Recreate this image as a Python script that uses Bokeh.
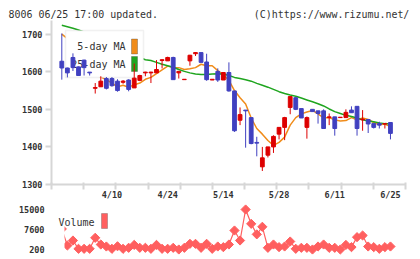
import numpy as np
from bokeh.plotting import figure
from bokeh.layouts import column
from bokeh.models import Range1d, FixedTicker, Label, BoxAnnotation, ColumnDataSource
from bokeh.embed import file_html
from bokeh.resources import INLINE

# ---------------- data ----------------
tick_idx = [9, 19, 29, 39, 49, 59]
tick_lbl = ["4/10", "4/24", "5/14", "5/28", "6/11", "6/25"]
price_ticks = [1300, 1400, 1500, 1600, 1700]
vol_ticks = [200, 7600, 15000]

opens = [1628, 1610, 1638, 1613, 1631, 1599, 1556, 1560, 1582, 1582,
         1575, 1572, 1578, 1557, 1577, 1597, 1597, 1597, 1630, 1629,
         1638, 1597, 1579, 1629, 1648, 1651, 1626, 1578, 1601, 1578,
         1598, 1549, 1471, 1498, 1478, 1412, 1347, 1378, 1400, 1434,
         1452, 1505, 1531, 1502, 1452, 1500, 1496, 1496, 1478, 1480,
         1478, 1478, 1498, 1508, 1472, 1473, 1462, 1462, 1461, 1465]
highs = [1702, 1611, 1649, 1614, 1632, 1599, 1570, 1588, 1586, 1586,
         1580, 1578, 1580, 1622, 1592, 1600, 1600, 1631, 1633, 1640,
         1640, 1601, 1580, 1645, 1652, 1651, 1648, 1580, 1609, 1598,
         1625, 1549, 1505, 1498, 1478, 1427, 1400, 1400, 1431, 1452,
         1480, 1534, 1533, 1502, 1481, 1500, 1496, 1500, 1489, 1480,
         1479, 1500, 1508, 1508, 1498, 1473, 1462, 1467, 1462, 1465]
lows = [1579, 1585, 1602, 1590, 1590, 1590, 1542, 1560, 1553, 1560,
        1547, 1568, 1548, 1557, 1575, 1588, 1570, 1597, 1609, 1629,
        1579, 1582, 1579, 1616, 1642, 1625, 1576, 1578, 1573, 1578,
        1547, 1440, 1458, 1398, 1407, 1375, 1336, 1372, 1384, 1420,
        1418, 1487, 1498, 1477, 1422, 1494, 1462, 1449, 1458, 1430,
        1478, 1478, 1491, 1430, 1443, 1437, 1449, 1449, 1449, 1420]
closes = [1610, 1597, 1611, 1590, 1611, 1597, 1558, 1575, 1556, 1563,
          1550, 1575, 1553, 1583, 1590, 1599, 1599, 1606, 1632, 1638,
          1579, 1601, 1580, 1644, 1651, 1625, 1579, 1580, 1578, 1598,
          1549, 1443, 1486, 1496, 1409, 1410, 1371, 1400, 1428, 1452,
          1478, 1534, 1500, 1477, 1478, 1494, 1489, 1449, 1480, 1449,
          1479, 1492, 1491, 1449, 1474, 1461, 1452, 1458, 1462, 1436]
ma5 = [1700, 1688, 1660, 1630, 1604, 1601, 1593, 1586, 1579, 1570,
       1560, 1564, 1559, 1565, 1570, 1580, 1585, 1595, 1605, 1615,
       1611, 1611, 1606, 1608, 1611, 1620, 1616, 1616, 1603, 1592,
       1577, 1550, 1531, 1514, 1477, 1449, 1434, 1417, 1404, 1412,
       1426, 1458, 1478, 1488, 1493, 1497, 1488, 1477, 1478, 1472,
       1469, 1470, 1478, 1472, 1477, 1473, 1465, 1459, 1461, 1454]
ma25 = [1724, 1720, 1716, 1711, 1706, 1700, 1694, 1688, 1681, 1674,
        1667, 1660, 1652, 1645, 1638, 1632, 1630, 1625, 1620, 1616,
        1612, 1606, 1601, 1597, 1594, 1593, 1593, 1594, 1595, 1594,
        1590, 1585, 1582, 1579, 1575, 1569, 1564, 1559, 1553, 1547,
        1542, 1538, 1535, 1530, 1525, 1520, 1515, 1509, 1501, 1494,
        1489, 1484, 1481, 1477, 1472, 1469, 1467, 1464, 1462, 1461]
volume = [7800, 1680, 3530, 460, 460, 460, 4530, 2050, 1310, 460,
          1400, 460, 830, 1900, 830, 830, 460, 1900, 460, 460,
          830, 200, 830, 2300, 2300, 830, 2300, 460, 1310, 1070,
          2050, 7230, 3530, 15000, 9700, 5800, 8600, 830, 2050, 1070,
          1310, 3160, 460, 830, 830, 200, 1310, 2050, 830, 830,
          200, 1900, 1070, 4770, 5390, 1310, 1070, 460, 1070, 1310]

title_left = "8006 06/25 17:00 updated."
title_right = "(C)https://www.rizumu.net/"

# ---------------- style ----------------
FONT = "DejaVu Sans Mono"
UP, DOWN = "#dd0000", "#4040c0"
ORANGE, GREEN = "#f08c1a", "#1fa51f"
VOLC = "#ff5f5f"
AXC = "#d6d6d6"
TXT = "#333333"

W, H_MAIN, H_VOL = 420, 203, 56
L, R, T, B = 51, 15, 20, 19
x0, x1 = -1.85, 61.7

idx = np.arange(len(opens))
o = np.array(opens, float)
c = np.array(closes, float)
src = ColumnDataSource(dict(
    x=idx, h=highs, l=lows,
    top=np.maximum(o, c), bottom=np.minimum(o, c),
    color=[UP if cc >= oo else DOWN for oo, cc in zip(o, c)],
))

p = figure(width=W, height=H_MAIN, x_range=Range1d(x0, x1),
           y_range=Range1d(1300, 1736.4), output_backend="svg",
           toolbar_location=None, min_border_left=L, min_border_right=R,
           min_border_top=T, min_border_bottom=B)
p.outline_line_color = None
p.grid.visible = False

# header: both texts in one monospace line (non-breaking spaces keep the gap)
p.title.text = title_left + "\u00a0" * 16 + title_right
p.title.text_font = FONT
p.title.text_font_size = "9.95px"
p.title.text_font_style = "normal"
p.title.text_color = TXT
p.title.align = "left"
p.title.offset = 8 - L
p.title.standoff = 2

p.line(idx, ma5, color=ORANGE, line_width=1.5, level="image")
p.line(idx, ma25, color=GREEN, line_width=1.5, level="image")
p.segment(x0="x", y0="l", x1="x", y1="h", color="color", line_width=1,
          source=src, level="guide")
p.vbar(x="x", width=0.68, top="top", bottom="bottom", fill_color="color",
       line_color="color", line_width=1, source=src, level="guide")

xa = p.xaxis[0]
xa.ticker = FixedTicker(ticks=tick_idx,
                        minor_ticks=list(np.linspace(x0 + 0.01, x1 - 0.01, 12)))
xa.major_label_overrides = {i: s for i, s in zip(tick_idx, tick_lbl)}
xa.axis_line_color = AXC
xa.axis_line_width = 2
xa.major_tick_in = 0
xa.major_tick_out = 0
xa.minor_tick_in = 2
xa.minor_tick_out = 5
xa.minor_tick_line_color = AXC
xa.minor_tick_line_width = 2
xa.major_label_standoff = 0
xa.major_label_text_font = FONT
xa.major_label_text_font_size = "8.5px"
xa.major_label_text_font_style = "bold"
xa.major_label_text_color = TXT

ya = p.yaxis[0]
ya.ticker = FixedTicker(ticks=price_ticks)
ya.axis_line_color = AXC
ya.axis_line_width = 2
ya.major_tick_in = 0
ya.major_tick_out = 6
ya.major_tick_line_color = AXC
ya.major_tick_line_width = 2
ya.minor_tick_in = 0
ya.minor_tick_out = 0
ya.major_label_standoff = 3
ya.major_label_text_font = FONT
ya.major_label_text_font_size = "8.5px"
ya.major_label_text_font_style = "bold"
ya.major_label_text_color = TXT

# legend box (white, hides the MA lines, candles drawn above)
fh = H_MAIN - T - B
def sy(y_px):  # page pixel row -> screen units from frame bottom
    return fh + T - y_px
p.add_layout(BoxAnnotation(left=65 - L, right=143 - L, bottom=sy(77), top=sy(30),
                           left_units="screen", right_units="screen",
                           top_units="screen", bottom_units="screen",
                           fill_color="white", fill_alpha=1,
                           line_color="#cfcfcf", line_width=1.5, level="underlay"))
for lab, col, yc in [("5-day MA", ORANGE, 46), ("25-day MA", GREEN, 63.5)]:
    p.add_layout(Label(x=125 - L, y=sy(yc), x_units="screen", y_units="screen",
                       text=lab, text_font=FONT, text_font_size="10px",
                       text_color=TXT, text_align="right", text_baseline="middle",
                       level="glyph"))
    p.add_layout(BoxAnnotation(left=131 - L, right=137 - L, bottom=sy(yc + 7.5),
                               top=sy(yc - 7.5),
                               left_units="screen", right_units="screen",
                               top_units="screen", bottom_units="screen",
                               fill_color=col, fill_alpha=1, line_color="#333333",
                               line_width=1, level="glyph"))

# ---------------- volume panel ----------------
VL = 64   # where the volume trace becomes visible
p2 = figure(width=W, height=H_VOL, x_range=Range1d(x0, x1),
            y_range=Range1d(-3500, 17220), output_backend="svg",
            toolbar_location=None, x_axis_location=None,
            min_border_left=L, min_border_right=R,
            min_border_top=0, min_border_bottom=0)
p2.outline_line_color = None
p2.grid.visible = False
p2.line(idx, volume, color=VOLC, line_width=1.2, level="underlay")
p2.scatter(idx, volume, marker="square", angle=0.785, size=6.5, color=VOLC,
           level="underlay")
# the trace starts at the panel's inner edge in the reference
p2.add_layout(BoxAnnotation(left=0, right=VL - L, bottom=-5, top=H_VOL + 5,
                            left_units="screen", right_units="screen",
                            top_units="screen", bottom_units="screen",
                            fill_color="white", fill_alpha=1, line_color=None,
                            level="glyph"))
va = p2.yaxis[0]
va.ticker = FixedTicker(ticks=vol_ticks)
va.axis_line_color = None
va.major_tick_in = 0
va.major_tick_out = 0
va.minor_tick_in = 0
va.minor_tick_out = 0
va.major_label_standoff = 7
va.major_label_text_font = FONT
va.major_label_text_font_size = "8.5px"
va.major_label_text_font_style = "bold"
va.major_label_text_color = TXT

p2.add_layout(Label(x=58 - L, y=H_VOL - 19, x_units="screen", y_units="screen",
                    text="Volume", text_font=FONT, text_font_size="10px",
                    text_color=TXT, text_baseline="middle"))
p2.add_layout(BoxAnnotation(left=101 - L, right=107 - L, bottom=H_VOL - 25,
                            top=H_VOL - 10, left_units="screen", right_units="screen",
                            top_units="screen", bottom_units="screen",
                            fill_color=VOLC, fill_alpha=1, line_color="#444444",
                            line_width=1))

layout = column(p, p2, spacing=0)
open("out.html", "w").write(file_html(layout, INLINE))
